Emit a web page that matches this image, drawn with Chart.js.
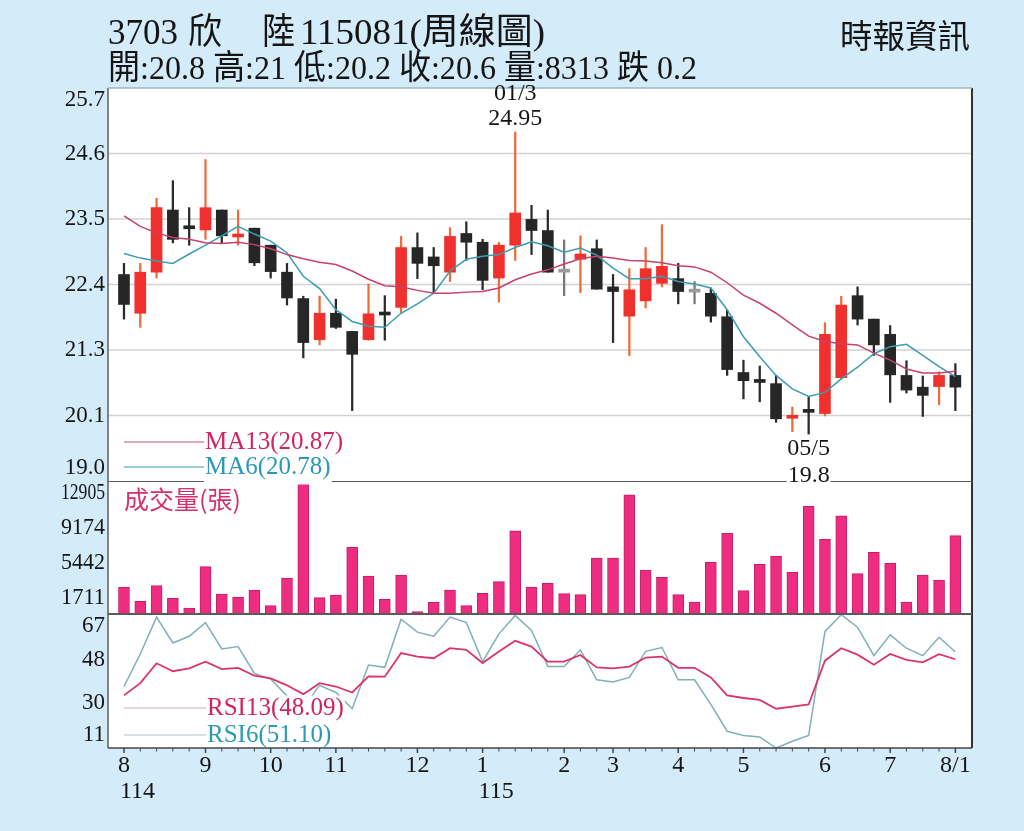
<!DOCTYPE html>
<html><head><meta charset="utf-8">
<script src="https://cdn.jsdelivr.net/npm/chart.js@4.4.0/dist/chart.umd.min.js"></script>
<style>
html,body{margin:0;padding:0;}
body{width:1024px;height:831px;background:#d4ecf9;position:relative;overflow:hidden;font-family:"Liberation Serif","Noto Sans CJK TC",serif;}
canvas{position:absolute;left:0;}
.t{position:absolute;white-space:pre;color:#151515;transform-origin:0 50%;line-height:1;z-index:5;}
</style></head><body>
<div class="t" data-w="70" style="left:108px;top:14px;font-size:36px">3703</div>
<div class="t" data-w="34" style="left:188px;top:14px;font-size:36px">欣</div>
<div class="t" data-w="33" style="left:262px;top:14px;font-size:36px">陸</div>
<div class="t" data-w="245" style="left:300px;top:14px;font-size:36px">115081(周線圖)</div>
<div class="t" data-w="589" style="left:108px;top:51px;font-size:34px">開:20.8 高:21 低:20.2 收:20.6 量:8313 跌 0.2</div>
<div class="t" data-w="130" style="left:840px;top:21px;font-size:33px">時報資訊</div>
<canvas id="cp" width="1024" height="495" style="top:0;z-index:3"></canvas>
<canvas id="cv" width="1024" height="145" style="top:475px;z-index:2"></canvas>
<canvas id="cr" width="1024" height="223" style="top:608px;z-index:1"></canvas>
<script>
// ---- data (weekly) ----
const open  = [22.52,21.86,22.56,23.62,23.32,23.28,23.62,23.16,23.31,23.02,22.56,22.11,21.41,21.86,21.55,21.41,21.85,21.96,22.98,22.82,22.56,23.22,23.07,22.46,23.02,23.46,23.27,22.56,22.78,22.96,22.31,21.81,22.07,22.37,22.45,22.22,22.20,21.80,20.85,20.70,20.66,20.07,20.19,20.15,20.76,22.16,21.76,21.50,20.80,20.60,20.61,20.80];
const high  = [22.71,22.71,23.82,24.12,23.66,24.48,23.62,23.62,23.31,23.02,22.71,22.15,22.15,22.10,21.55,22.36,22.16,23.17,23.23,22.98,23.32,23.42,23.12,23.07,24.95,23.70,23.62,23.11,23.18,23.11,22.52,22.62,22.98,23.37,22.71,22.40,22.29,21.91,21.06,20.96,20.80,20.26,20.43,21.70,22.15,22.31,21.76,21.65,21.05,20.79,20.86,21.00];
const low   = [21.76,21.62,22.46,23.06,23.02,23.12,23.06,23.02,22.67,22.46,22.00,21.10,21.32,21.60,20.20,21.40,21.40,21.87,22.45,22.20,22.40,22.76,22.26,22.05,22.76,22.86,22.56,22.16,22.21,22.27,21.36,21.14,21.95,22.31,22.02,22.02,21.71,20.80,20.40,20.35,20.00,19.84,19.80,20.11,20.74,21.66,21.14,20.34,20.50,20.10,20.30,20.20];
const close = [22.01,22.56,23.66,23.12,23.30,23.66,23.18,23.21,22.72,22.57,22.12,21.36,21.86,21.62,21.16,21.85,21.83,22.98,22.71,22.67,23.17,23.07,22.42,23.02,23.57,23.27,22.56,22.56,22.87,22.27,22.23,22.26,22.62,22.66,22.23,22.22,21.81,20.90,20.71,20.68,20.06,20.09,20.17,21.50,22.00,21.76,21.32,20.81,20.55,20.46,20.80,20.60];
const volume = [2830,1344,3006,1662,637,5023,2122,1804,2547,884,3820,14007,1733,2016,7109,4032,1556,4138,248,1238,2547,884,2193,3431,8843,2865,3254,2158,2051,5942,5942,12662,4669,3891,2051,1273,5482,8560,2476,5270,6154,4457,11425,7923,10434,4280,6543,5376,1273,4138,3608,8313];
const ma13 = [23.52,23.34,23.23,23.15,23.12,23.06,23.05,23.07,23.03,22.96,22.86,22.79,22.73,22.69,22.58,22.44,22.33,22.31,22.25,22.20,22.20,22.22,22.23,22.29,22.43,22.53,22.60,22.70,22.79,22.83,22.80,22.76,22.75,22.72,22.67,22.65,22.56,22.38,22.17,22.03,21.86,21.66,21.47,21.38,21.34,21.32,21.18,21.06,20.91,20.84,20.84,20.87];
const ma6  = [22.88,22.80,22.75,22.71,22.87,23.02,23.18,23.34,23.21,23.09,22.89,22.49,22.28,21.92,21.72,21.64,21.62,21.86,22.02,22.20,22.58,22.78,22.83,22.86,22.98,23.08,23.01,22.90,22.97,22.85,22.63,22.45,22.45,22.49,22.40,22.36,22.29,21.92,21.46,21.12,20.80,20.57,20.44,20.51,20.74,20.94,21.17,21.29,21.33,21.14,20.95,20.78];
const rsi13 = [33.0,38.1,46.4,43.1,44.3,47.1,44.0,44.5,41.2,40.1,37.2,33.5,38.1,36.7,34.2,40.9,40.8,50.7,49.2,48.5,52.7,52.0,46.5,51.3,55.8,53.4,47.1,47.1,49.9,44.7,44.3,45.0,48.8,49.2,44.5,44.5,40.5,33.0,31.9,31.1,27.4,28.3,29.2,47.5,52.7,50.0,45.8,50.3,47.8,46.8,50.2,48.09];
const rsi6  = [36.7,50.3,65.7,54.9,57.7,63.4,52.4,53.4,42.2,39.8,32.8,27.8,37.2,34.2,27.4,45.7,44.7,64.8,59.4,57.7,65.7,63.4,47.1,58.7,66.4,60.1,45.1,45.1,52.0,39.5,38.6,40.5,51.4,53.0,39.5,39.5,29.2,18.0,16.2,15.6,11.0,13.8,16.2,59.7,66.7,61.5,49.6,58.3,52.7,49.6,57.3,51.10];

// ---- axes / labels ----
const priceRange = [19.0, 25.7];
const priceTickLabels = ['19.0','20.1','21.3','22.4','23.5','24.6','25.7'];
const volRange = [0, 14120];
const volTicks = [1711, 5442, 9174, 12905];
const rsiRange = [11, 67];
const rsiTicks = [11, 30, 48, 67];
const monthIdx = [0,5,9,13,18,22,27,30,34,38,43,47,51];
const monthLabels = ['8','9','10','11','12','1','2','3','4','5','6','7','8/1'];
const yearIdx = [0, 22];
const yearLabels = ['114','115'];
const maLegend = ['MA13(20.87)','MA6(20.78)'];
const rsiLegend = ['RSI13(48.09)','RSI6(51.10)'];
const volTitle = '成交量(張)';
const highMark = [24, '01/3', '24.95'];
const lowMark = [42, '05/5', '19.8'];

// fit header text widths
document.querySelectorAll('.t').forEach(el => {
  const w = +el.dataset.w; const r = w / el.getBoundingClientRect().width;
  el.style.transform = 'scaleX(' + r + ')';
});

const SERIF = '"Liberation Serif","Noto Sans CJK TC",serif';
const RED = '#f0302c', BLACK = '#262626', GRAY = '#9a9a9a';
const xs = close.map((_, i) => i);
const X_MIN = -0.98, X_MAX = 52.02;
const PAD_L = 108, PAD_R = 52;
const LABEL_MAX_W = 44;

function txt(ctx, s, x, y, size, color, align, bg, bgExtra, maxW) {
  ctx.save();
  ctx.font = size + 'px ' + SERIF;
  ctx.textAlign = align; ctx.textBaseline = 'middle';
  if (bg) {
    const w = ctx.measureText(s).width;
    const x0 = align === 'left' ? x : align === 'right' ? x - w : x - w / 2;
    const e = bgExtra || 0;
    ctx.fillStyle = bg; ctx.fillRect(x0 - 1, y - size * 0.5, w + 2, size + e);
  }
  ctx.fillStyle = color;
  if (maxW) ctx.fillText(s, x, y, maxW); else ctx.fillText(s, x, y);
  ctx.restore();
}
function line(ctx, x1, y1, x2, y2, color, w) {
  ctx.save(); ctx.strokeStyle = color; ctx.lineWidth = w;
  ctx.beginPath(); ctx.moveTo(x1, y1); ctx.lineTo(x2, y2); ctx.stroke(); ctx.restore();
}
function whiteBg(chart) {
  const a = chart.chartArea, ctx = chart.ctx;
  ctx.save(); ctx.fillStyle = '#ffffff'; ctx.fillRect(a.left, a.top, a.right - a.left, a.bottom - a.top); ctx.restore();
}
function sideBorders(chart) {
  const a = chart.chartArea, ctx = chart.ctx;
  line(ctx, a.left, a.top, a.left, a.bottom, '#5c5c5c', 1.5);
  line(ctx, a.right, a.top, a.right, a.bottom, '#333333', 2);
}
function clampY(a, y) { return Math.max(a.top + 12, Math.min(a.bottom - 13, y)); }
function candleColor(i) { return close[i] > open[i] ? RED : close[i] < open[i] ? BLACK : GRAY; }
function wickColor(i) { return close[i] > open[i] ? '#ee6c3c' : close[i] < open[i] ? '#2a2a2a' : '#777777'; }

const common = (padTop, padBottom, yr) => ({
  responsive: false, animation: false,
  layout: { padding: { left: PAD_L, right: PAD_R, top: padTop, bottom: padBottom } },
  plugins: { legend: { display: false }, tooltip: { enabled: false } },
  scales: {
    x: { type: 'linear', min: X_MIN, max: X_MAX, display: false, offset: false, bounds: 'ticks' },
    y: { type: 'linear', min: yr[0], max: yr[1], display: false }
  }
});

// ---- price pane ----
const pricePlugin = {
  id: 'pricePane',
  beforeDatasetsDraw(chart) {
    whiteBg(chart);
    const a = chart.chartArea, y = chart.scales.y, ctx = chart.ctx;
    const n = priceTickLabels.length - 1;
    for (let k = 1; k < n; k++) {
      const py = y.getPixelForValue(y.min + k * (y.max - y.min) / n);
      line(ctx, a.left, py, a.right, py, '#d2d2d2', 1.5);
    }
  },
  afterDraw(chart) {
    const a = chart.chartArea, y = chart.scales.y, x = chart.scales.x, ctx = chart.ctx;
    sideBorders(chart);
    line(ctx, a.left, a.top, a.right, a.top, '#9fb4c0', 1.5);
    const n = priceTickLabels.length - 1;
    priceTickLabels.forEach((s, k) => {
      const py = clampY(a, y.getPixelForValue(y.min + k * (y.max - y.min) / n));
      txt(ctx, s, a.left - 3, py, 23, '#151515', 'right', null, 0, LABEL_MAX_W);
    });
    // legend
    line(ctx, a.left + 16, 442, a.left + 97, 442, '#c8507a', 1.2);
    txt(ctx, maLegend[0], a.left + 97, 442, 25, '#d2255f', 'left', '#ffffff');
    line(ctx, a.left + 16, 467, a.left + 97, 467, '#3c9cb0', 1.2);
    txt(ctx, maLegend[1], a.left + 97, 467, 25, '#2a9ab3', 'left', '#ffffff', 5);
    // extreme marks
    const hx = x.getPixelForValue(highMark[0]), hy = y.getPixelForValue(high[highMark[0]]);
    txt(ctx, highMark[1], hx, hy - 38, 24, '#151515', 'center');
    txt(ctx, highMark[2], hx, hy - 13, 24, '#151515', 'center');
    const lx = x.getPixelForValue(lowMark[0]), ly = y.getPixelForValue(low[lowMark[0]]);
    txt(ctx, lowMark[1], lx, ly + 15, 24, '#151515', 'center');
    txt(ctx, lowMark[2], lx, ly + 42, 24, '#151515', 'center', '#ffffff', 2);
  }
};
new Chart(document.getElementById('cp'), {
  type: 'bar',
  data: { datasets: [
    { type: 'line', data: xs.map(i => ({ x: i, y: ma13[i] })), borderColor: '#c8406e', borderWidth: 1.5, pointRadius: 0, tension: 0, order: 0 },
    { type: 'line', data: xs.map(i => ({ x: i, y: ma6[i] })), borderColor: '#3d9cb2', borderWidth: 1.5, pointRadius: 0, tension: 0, order: 1 },
    { type: 'bar', data: xs.map(i => ({ x: i, y: [open[i], close[i]] })), grouped: false, barThickness: 11, minBarLength: 3,
      backgroundColor: c => candleColor(c.dataIndex), borderWidth: 0, order: 2 },
    { type: 'bar', data: xs.map(i => ({ x: i, y: [low[i], high[i]] })), grouped: false, barThickness: 1.6,
      backgroundColor: c => wickColor(c.dataIndex), borderWidth: 0, order: 3 }
  ]},
  options: common(88, 14, priceRange),
  plugins: [pricePlugin]
});

// ---- volume pane ----
const volPlugin = {
  id: 'volPane',
  beforeDatasetsDraw(chart) { whiteBg(chart); },
  afterDraw(chart) {
    const a = chart.chartArea, y = chart.scales.y, ctx = chart.ctx;
    sideBorders(chart);
    line(ctx, a.left, a.top, a.right, a.top, '#5a5a5a', 2);
    line(ctx, a.left, a.bottom, a.right, a.bottom, '#5a5a5a', 2);
    volTicks.forEach(v => txt(ctx, String(v), a.left - 3, clampY(a, y.getPixelForValue(v)), 23, '#151515', 'right', null, 0, LABEL_MAX_W));
    ctx.save();
    ctx.font = '25px "Noto Sans CJK TC","Liberation Serif",sans-serif';
    ctx.fillStyle = '#d4306c'; ctx.textBaseline = 'middle'; ctx.textAlign = 'left';
    ctx.fillText(volTitle, a.left + 16, a.top + 18);
    ctx.restore();
  }
};
new Chart(document.getElementById('cv'), {
  type: 'bar',
  data: { datasets: [
    { data: xs.map(i => ({ x: i, y: volume[i] })), barThickness: 11, backgroundColor: '#ee2c80', borderColor: '#c41f66', borderWidth: 1 }
  ]},
  options: common(6, 6, volRange),
  plugins: [volPlugin]
});

// ---- RSI pane ----
const rsiPlugin = {
  id: 'rsiPane',
  beforeDatasetsDraw(chart) { whiteBg(chart); },
  afterDraw(chart) {
    const a = chart.chartArea, y = chart.scales.y, x = chart.scales.x, ctx = chart.ctx;
    sideBorders(chart);
    line(ctx, a.left, a.bottom, a.right, a.bottom, '#444444', 1.5);
    xs.forEach(i => {
      const px = x.getPixelForValue(i);
      const isM = monthIdx.indexOf(i) >= 0;
      line(ctx, px, a.bottom, px, a.bottom + (isM ? 5 : 3.5), '#444444', isM ? 1.5 : 1);
    });
    monthIdx.forEach((i, k) => txt(ctx, monthLabels[k], x.getPixelForValue(i), a.bottom + 18, 24, '#151515', 'center'));
    yearIdx.forEach((i, k) => txt(ctx, yearLabels[k], x.getPixelForValue(i) - 4, a.bottom + 44, 24, '#151515', 'left'));
    rsiTicks.forEach(v => txt(ctx, String(v), a.left - 3, clampY(a, y.getPixelForValue(v)), 23, '#151515', 'right', null, 0, LABEL_MAX_W));
    line(ctx, a.left + 16, 708 - 608, a.left + 99, 708 - 608, '#e6a8bc', 1.2);
    txt(ctx, rsiLegend[0], a.left + 99, 708 - 608, 25, '#d2235e', 'left', '#ffffff');
    line(ctx, a.left + 16, 735 - 608, a.left + 99, 735 - 608, '#a9c9cd', 1.2);
    txt(ctx, rsiLegend[1], a.left + 99, 735 - 608, 25, '#2b9ab3', 'left', '#ffffff', -1);
  }
};
new Chart(document.getElementById('cr'), {
  type: 'line',
  data: { datasets: [
    { data: xs.map(i => ({ x: i, y: rsi13[i] })), borderColor: '#d9346c', borderWidth: 1.8, pointRadius: 0, tension: 0 },
    { data: xs.map(i => ({ x: i, y: rsi6[i] })), borderColor: '#7fb0b8', borderWidth: 1.5, pointRadius: 0, tension: 0 }
  ]},
  options: common(6, 83, rsiRange),
  plugins: [rsiPlugin]
});
</script>
</body></html>
